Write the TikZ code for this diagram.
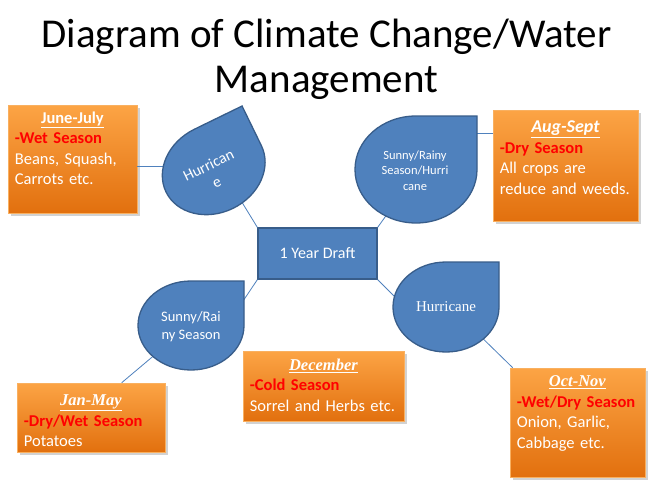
\documentclass[tikz,border=0pt]{standalone}
\usepackage{fontspec}
\setmainfont{Carlito}
\newfontfamily\serifbox{Liberation Serif}
\usetikzlibrary{positioning,shadows}
\definecolor{dropfill}{HTML}{4F81BD}
\definecolor{dropline}{HTML}{385D8A}
\definecolor{seasontop}{HTML}{FCA445}
\definecolor{seasonbot}{HTML}{E2700E}
\definecolor{seasonline}{HTML}{F9B060}
\definecolor{wetred}{HTML}{FF0000}

\begin{document}
\begin{tikzpicture}[x=1pt, y=-1pt,
  season/.style={draw=seasonline, line width=0.6pt, top color=seasontop, bottom color=seasonbot, drop shadow={shadow xshift=2.5pt, shadow yshift=-2.5pt, opacity=0.35}},
  seasontext/.style={text=white, align=left, inner xsep=7pt, inner ysep=0pt, font=\fontsize{16.5}{20.5}\selectfont},
  link/.style={draw=dropfill, line width=0.8pt},
  raindrop/.pic={\filldraw[fill=dropfill, draw=dropline, line width=1.3pt] (0,1) -- (1,1) -- (1,0) arc[start angle=0, end angle=-270, radius=1] -- cycle;},
  droptext/.style={text=white, align=center}]
  \fill[white] (0,0) rectangle (657,488);
  \useasboundingbox (0,0) rectangle (657,488);

  % title
  \node[font=\fontsize{41}{41}\selectfont, anchor=base] (title1) at (326.5,47) {Diagram of Climate Change/Water};
  \node[font=\fontsize{41}{41}\selectfont, anchor=base] (title2) at (326.5,92) {Management};

  % season boxes
  \node[season, minimum width=129pt, minimum height=108pt] (jj) at (72.5,159) {};
  \node[seasontext, text width=115pt, below right=7pt and 0pt of jj.north west] (jjt) {{\centering\bfseries\underline{June-July}\par}{\color{wetred}\bfseries -Wet Season}\\Beans, Squash,\\Carrots etc.};
  \node[season, minimum width=145pt, minimum height=111pt] (as) at (565.5,165.5) {};
  \node[seasontext, text width=131pt, below right=11pt and 0pt of as.north west] (ast) {{\centering\fontsize{18}{20.5}\selectfont\bfseries\itshape\underline{Aug-Sept}\par}{\color{wetred}\bfseries -Dry Season}\\All crops are\\reduce and weeds.};
  \node[season, minimum width=148pt, minimum height=69pt] (jm) at (91,417.5) {};
  \node[seasontext, text width=134pt, below right=12pt and 0pt of jm.north west] (jmt) {{\centering\serifbox\bfseries\itshape\underline{Jan-May}\par}{\color{wetred}\bfseries -Dry/Wet Season}\\Potatoes};
  \node[season, minimum width=161pt, minimum height=70pt] (dec) at (323.5,386) {};
  \node[seasontext, text width=147pt, below right=8pt and 0pt of dec.north west] (dect) {{\centering\serifbox\bfseries\itshape\underline{December}\par}{\color{wetred}\bfseries -Cold Season}\\Sorrel and Herbs etc.};
  \node[season, minimum width=135pt, minimum height=109pt] (on) at (577.5,422.5) {};
  \node[seasontext, text width=121pt, below right=8pt and 0pt of on.north west] (ont) {{\centering\serifbox\bfseries\itshape\underline{Oct-Nov}\par}{\color{wetred}\bfseries -Wet/Dry Season}\\Onion, Garlic,\\Cabbage etc.};

  % centre
  \node[draw=dropline, line width=1.3pt, fill=dropfill, text=white, minimum width=119pt, minimum height=51pt, font=\fontsize{16}{19}\selectfont] (yr) at (317.5,253.5) {1 Year Draft};

  % links
  \coordinate (c1) at (170,166);
  \coordinate (c2) at (460,133);
  \coordinate (c3) at (232,186);
  \coordinate (c4) at (393,206);
  \coordinate (c5) at (235,313);
  \coordinate (c6) at (405,307);
  \coordinate (c7) at (170,342);
  \coordinate (c9) at (470,326);
  \draw[link] (jj.east |- c1) -- (c1);
  \draw[link] (c2) -- (c2 -| as.west);
  \draw[link] (yr.north west) -- (c3);
  \draw[link] (yr.north east) -- (c4);
  \draw[link] (yr.south west) -- (c5);
  \draw[link] (yr.south east) -- (c6);
  \draw[link] (c7) -- ([xshift=105pt]jm.north west);
  \draw[link] (c9) -- ([xshift=3pt]on.north west);

  % drops
  \pic[rotate=26, yscale=-1, xscale=53, yscale=44] at (213.7,168.8) {raindrop};
  \pic[yscale=-1, xscale=61, yscale=53.5] at (416,169.5) {raindrop};
  \pic[yscale=-1, xscale=53, yscale=44.5] at (191,325.5) {raindrop};
  \pic[yscale=-1, xscale=53, yscale=45] at (446,307) {raindrop};
  \node[droptext, rotate=26, font=\fontsize{15.5}{18.5}\selectfont] (h1) at (212.5,173.5) {Hurrican\\e};
  \node[droptext, font=\fontsize{12.5}{15.5}\selectfont] (h2) at (415,170.5) {Sunny/Rainy\\Season/Hurri\\cane};
  \node[droptext, font=\fontsize{14.5}{18}\selectfont] (h3) at (191,327) {Sunny/Rai\\ny Season};
  \node[droptext, font=\serifbox\fontsize{15}{18}\selectfont] (h4) at (446,307) {Hurricane};
\end{tikzpicture}
\end{document}
